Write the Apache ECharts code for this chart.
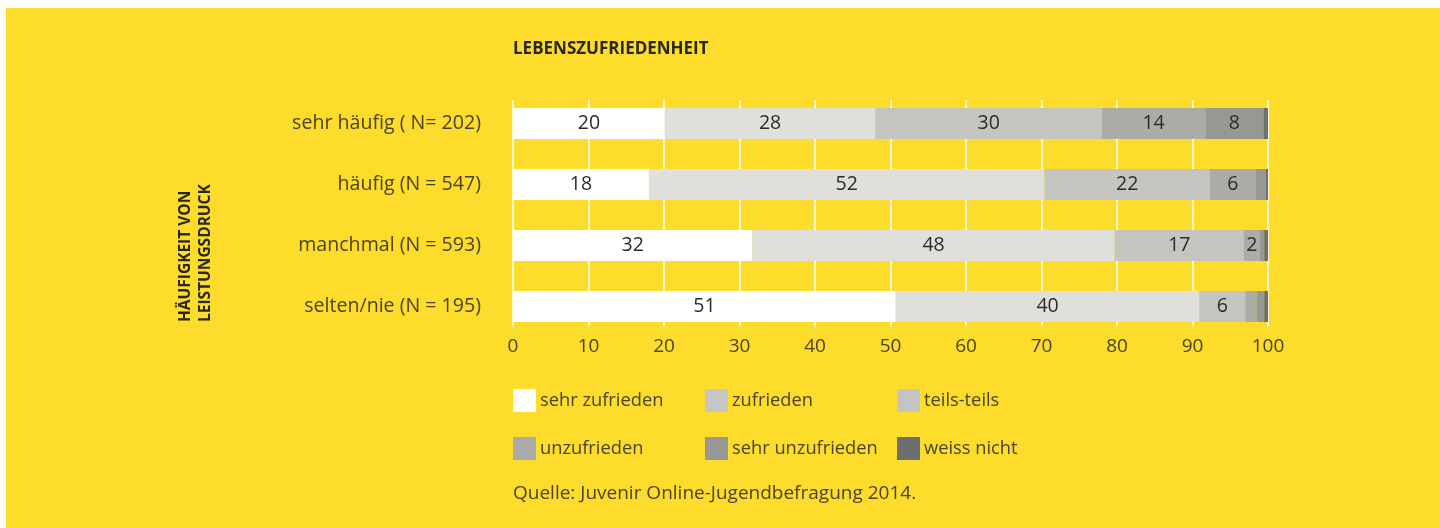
<!DOCTYPE html>
<html>
<head>
<meta charset="utf-8">
<script src="https://cdn.jsdelivr.net/npm/echarts@6/dist/echarts.min.js"></script>
<style>
html,body{margin:0;padding:0;background:#ffffff;}
#bg{position:absolute;left:6px;top:8px;right:0;bottom:0;background:#FEDC2C;}
#wrap{position:relative;width:1440px;height:528px;overflow:hidden;}
#chart{position:absolute;left:0;top:0;width:1440px;height:528px;}
</style>
</head>
<body>
<div id="wrap"><div id="bg"></div><div id="chart"></div></div>
<script>
const categories = ['sehr häufig ( N= 202)', 'häufig (N = 547)', 'manchmal (N = 593)', 'selten/nie (N = 195)'];
const seriesNames = ['sehr zufrieden', 'zufrieden', 'teils-teils', 'unzufrieden', 'sehr unzufrieden', 'weiss nicht'];
const sehrZufrieden = [20.1, 18.0, 31.7, 50.7];
const zufrieden = [27.9, 52.4, 48.0, 40.2];
const teilsTeils = [30.0, 21.9, 17.1, 6.1];
const unzufrieden = [13.7, 6.1, 2.1, 1.5];
const sehrUnzufrieden = [7.7, 1.3, 0.6, 1.0];
const weissNicht = [0.6, 0.3, 0.5, 0.5];
const xTicks = [0, 10, 20, 30, 40, 50, 60, 70, 80, 90, 100];
const titleText = 'LEBENSZUFRIEDENHEIT';
const yAxisTitle = 'HÄUFIGKEIT VON\nLEISTUNGSDRUCK';
const sourceText = 'Quelle: Juvenir Online-Jugendbefragung 2014.';

const values = [sehrZufrieden, zufrieden, teilsTeils, unzufrieden, sehrUnzufrieden, weissNicht];
const barColors = ['#ffffff', '#dfdfdc', '#c4c4c0', '#abaca7', '#979893', '#6e6f71'];
const legendColors = ['#ffffff', '#c6c6c3', '#c4c4c0', '#abaca7', '#979893', '#6d6e70'];
const FONT = '"Open Sans", sans-serif';
const TXT = '#4a4424';

const chart = echarts.init(document.getElementById('chart'), null, {renderer: 'canvas'});

const series = seriesNames.map((name, i) => ({
  name: name,
  type: 'bar',
  stack: 'total',
  xAxisIndex: 0,
  yAxisIndex: 0,
  barWidth: 31,
  data: values[i],
  itemStyle: {color: barColors[i]},
  label: {
    show: true,
    position: 'inside',
    fontFamily: FONT,
    fontSize: 19.5,
    color: '#2b2b2b',
    formatter: p => (p.value >= 1.95 ? String(Math.round(p.value)) : '')
  },
  emphasis: {disabled: true}
}));

function legendFor(idxs, left) {
  return {
    orient: 'vertical',
    left: left,
    top: 389,
    padding: 0,
    itemWidth: 23,
    itemHeight: 23,
    itemGap: 25,
    icon: 'rect',
    selectedMode: false,
    textStyle: {fontFamily: FONT, fontSize: 18.3, color: TXT, padding: [0, 0, 0, -1]},
    data: idxs.map(i => ({name: seriesNames[i], itemStyle: {color: legendColors[i]}}))
  };
}

chart.setOption({
  animation: false,
  backgroundColor: 'transparent',
  legend: [legendFor([0, 3], 513), legendFor([1, 4], 705), legendFor([2, 5], 897)],
  grid: [
    {left: 513, right: 172, top: 93, bottom: 191},
    {left: 513, right: 172, top: 100, bottom: 201}
  ],
  xAxis: [
    {
      type: 'value', gridIndex: 0, min: 0, max: 100, interval: 10,
      axisLine: {show: false}, axisTick: {show: false},
      axisLabel: {show: false}, splitLine: {show: false}
    },
    {
      type: 'value', gridIndex: 1, min: 0, max: 100, interval: 10,
      axisLine: {show: false}, axisTick: {show: false},
      axisLabel: {show: true, margin: 10, fontFamily: FONT, fontSize: 19, color: TXT,
        formatter: v => (xTicks.indexOf(v) >= 0 ? String(v) : '')},
      splitLine: {show: true, lineStyle: {color: '#ffffff', width: 1.5}}
    }
  ],
  yAxis: [
    {
      type: 'category', gridIndex: 0, data: categories, inverse: true,
      axisLine: {show: false}, axisTick: {show: false}, splitLine: {show: false},
      axisLabel: {margin: 32, fontFamily: FONT, fontSize: 19.6, color: TXT}
    },
    {
      type: 'value', gridIndex: 1, min: 0, max: 1, show: false,
      splitLine: {show: false}
    }
  ],
  graphic: [
    {
      type: 'text',
      x: 513,
      y: 49,
      style: {
        text: titleText,
        fontFamily: FONT,
        fontSize: 17,
        fontWeight: 'bold',
        fill: '#2a2716',
        textAlign: 'left',
        textVerticalAlign: 'middle'
      }
    },
    {
      type: 'text',
      x: 176,
      y: 322,
      rotation: Math.PI / 2,
      style: {
        text: yAxisTitle,
        fontFamily: FONT,
        fontSize: 15.5,
        fontWeight: 'bold',
        lineHeight: 20,
        fill: '#2a2716',
        textAlign: 'left',
        textVerticalAlign: 'top'
      }
    },
    {
      type: 'text',
      x: 513,
      y: 494,
      style: {
        text: sourceText,
        fontFamily: FONT,
        fontSize: 19,
        fill: TXT,
        textAlign: 'left',
        textVerticalAlign: 'middle'
      }
    }
  ],
  series: series
});
</script>
</body>
</html>
